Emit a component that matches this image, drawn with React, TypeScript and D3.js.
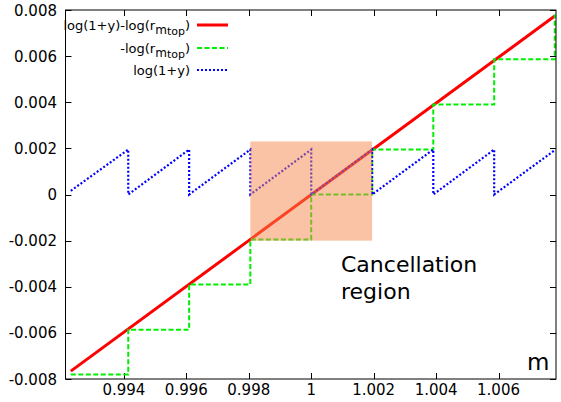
import React, { useEffect, useRef } from 'react';
import * as d3 from 'd3';

// log(1+y)-log(r_mtop): straight line across the range
const redM = [0.9923, 1.0078];
const redValues = [-0.00766, 0.00774];

// -log(r_mtop): staircase (value holds until the next m)
const greenM = [0.9923, 0.99414, 0.99609, 0.99805, 1.0, 1.00195, 1.00391, 1.00586, 1.0078];
const greenValues = [-0.0078, -0.00586, -0.0039, -0.00195, 0, 0.00195, 0.0039, 0.00586, 0.0078];

// log(1+y): sawtooth
const blueM = [0.9923, 0.99414, 0.99414, 0.99609, 0.99609, 0.99805, 0.99805, 1.0, 1.0,
  1.00195, 1.00195, 1.00391, 1.00391, 1.00586, 1.00586, 1.0078];
const blueValues = [0.00016, 0.00195, 0, 0.00195, 0, 0.00195, 0, 0.00195, 0,
  0.00195, 0, 0.00195, 0, 0.00195, 0, 0.00192];

const regionM = [0.99805, 1.00195];
const regionValues = [-0.002, 0.0023];

const xTicks = [0.994, 0.996, 0.998, 1, 1.002, 1.004, 1.006];
const xTickLabels = ['0.994', '0.996', '0.998', '1', '1.002', '1.004', '1.006'];
const yTicks = [-0.008, -0.006, -0.004, -0.002, 0, 0.002, 0.004, 0.006, 0.008];
const yTickLabels = ['-0.008', '-0.006', '-0.004', '-0.002', '0', '0.002', '0.004', '0.006', '0.008'];

const App = () => {
  const svgRef = useRef<SVGSVGElement>(null);

  useEffect(() => {
    const svg = d3.select(svgRef.current);
    svg.selectAll('*').remove();

    const left = 65.5, right = 556, top = 10, bottom = 379;
    const font = 'DejaVu Sans, sans-serif';

    const x = d3.scaleLinear().domain([0.99213, 1.00784]).range([left, right]);
    const y = d3.scaleLinear().domain([-0.008, 0.008]).range([bottom, top]);

    // ticks, mirrored and pointing inward
    const ticks = svg.append('g').attr('stroke', '#000').attr('stroke-width', 1);
    xTicks.forEach(t => {
      const px = Math.round(x(t)) + 0.5;
      ticks.append('line').attr('x1', px).attr('x2', px).attr('y1', bottom).attr('y2', bottom - 6);
      ticks.append('line').attr('x1', px).attr('x2', px).attr('y1', top).attr('y2', top + 6);
    });
    yTicks.forEach(t => {
      const py = Math.round(y(t)) + 0.5;
      ticks.append('line').attr('x1', left).attr('x2', left + 6).attr('y1', py).attr('y2', py);
      ticks.append('line').attr('x1', right).attr('x2', right - 6).attr('y1', py).attr('y2', py);
    });

    svg.append('g')
      .selectAll('text')
      .data(xTicks)
      .enter()
      .append('text')
      .attr('x', d => x(d))
      .attr('y', 395)
      .attr('text-anchor', 'middle')
      .attr('font-family', font)
      .attr('font-size', 15)
      .text((d, i) => xTickLabels[i]);

    svg.append('g')
      .selectAll('text')
      .data(yTicks)
      .enter()
      .append('text')
      .attr('x', 57)
      .attr('y', d => y(d) + 5.5)
      .attr('text-anchor', 'end')
      .attr('font-family', font)
      .attr('font-size', 15)
      .text((d, i) => yTickLabels[i]);

    svg.append('path')
      .attr('d', d3.line<number>().x(d => x(d)).y((d, i) => y(redValues[i]))(redM))
      .attr('fill', 'none')
      .attr('stroke', '#ff0000')
      .attr('stroke-width', 3);

    svg.append('path')
      .attr('d', d3.line<number>().x(d => x(d)).y((d, i) => y(greenValues[i])).curve(d3.curveStepAfter)(greenM))
      .attr('fill', 'none')
      .attr('stroke', '#00ee00')
      .attr('stroke-width', 2)
      .attr('stroke-dasharray', '5,2.5');

    svg.append('path')
      .attr('d', d3.line<number>().x(d => x(d)).y((d, i) => y(blueValues[i]))(blueM))
      .attr('fill', 'none')
      .attr('stroke', '#0000ff')
      .attr('stroke-width', 2.2)
      .attr('stroke-dasharray', '2,2');

    // cancellation region, semi-transparent in front
    svg.append('rect')
      .attr('x', x(regionM[0]))
      .attr('y', y(regionValues[1]))
      .attr('width', x(regionM[1]) - x(regionM[0]))
      .attr('height', y(regionValues[0]) - y(regionValues[1]))
      .attr('fill', 'rgb(245,135,75)')
      .attr('fill-opacity', 0.5);

    // border
    svg.append('rect')
      .attr('x', left).attr('y', top)
      .attr('width', right - left).attr('height', bottom - top)
      .attr('fill', 'none').attr('stroke', '#000').attr('stroke-width', 1);

    // legend
    const legend = svg.append('g').attr('font-family', font);
    const rows = [
      { y: 25, color: '#ff0000', width: 3, dash: null, pre: 'log(1+y)-log(r' },
      { y: 48, color: '#00ee00', width: 2, dash: '5,2.5', pre: '-log(r' },
      { y: 70, color: '#0000ff', width: 2.2, dash: '2,2', pre: 'log(1+y)' },
    ];
    rows.forEach((r, i) => {
      const t = legend.append('text')
        .attr('x', 190)
        .attr('y', r.y + 5)
        .attr('text-anchor', 'end')
        .attr('font-size', 13);
      t.append('tspan').text(r.pre);
      if (i < 2) {
        t.append('tspan').attr('dy', 4).attr('font-size', 12).text('m');
        t.append('tspan').attr('dy', 1).attr('font-size', 11).text('top');
        t.append('tspan').attr('dy', -5).text(')');
      }
      legend.append('line')
        .attr('x1', 197).attr('x2', 228)
        .attr('y1', r.y).attr('y2', r.y)
        .attr('stroke', r.color)
        .attr('stroke-width', r.width)
        .attr('stroke-dasharray', r.dash);
    });

    svg.append('text')
      .attr('x', 341).attr('y', 272)
      .attr('font-family', font).attr('font-size', 22)
      .text('Cancellation');
    svg.append('text')
      .attr('x', 341).attr('y', 299)
      .attr('font-family', font).attr('font-size', 22)
      .text('region');
    svg.append('text')
      .attr('x', 527).attr('y', 370)
      .attr('font-family', font).attr('font-size', 23)
      .text('m');
  }, []);

  return (
    <svg ref={svgRef} width={561} height={402}
      style={{ position: 'absolute', left: 0, top: 0, background: '#fff' }} />
  );
};

export default App;
